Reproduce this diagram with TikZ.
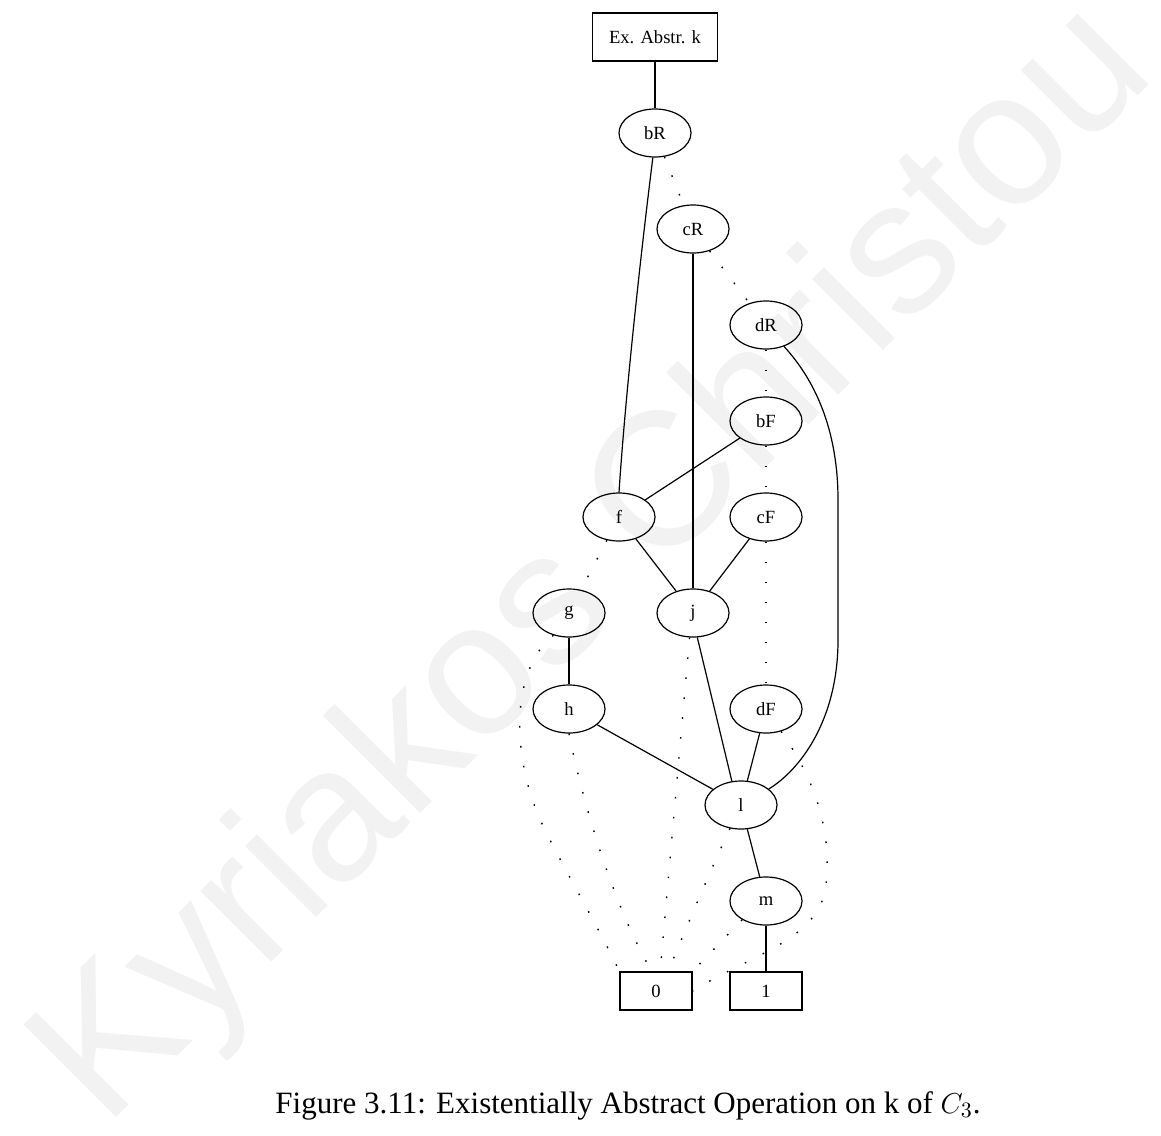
\documentclass[tikz,border=0pt]{standalone}
\usepackage{fontspec}
\setmainfont{Liberation Serif}
\newfontfamily\wmfont{Liberation Sans}
\usepackage{tikz}
\usetikzlibrary{shapes.geometric}

\begin{document}
\begin{tikzpicture}[
  x=0.5pt, y=-0.5pt,
  var/.style={draw, ellipse, line width=0.6pt, inner sep=0pt, minimum width=36pt, minimum height=24pt, font=\fontsize{9.3}{11}\selectfont},
  term/.style={draw, rectangle, line width=0.6pt, inner sep=0pt, minimum width=36pt, minimum height=19pt, font=\fontsize{9.3}{11}\selectfont},
  hi/.style={line width=0.6pt},
  lo/.style={line width=0.7pt, dash pattern=on 0.8pt off 9.2pt}
]
\useasboundingbox (0,0) rectangle (1161,1135);
% watermark
\node[anchor=base, rotate=45, text=black!5, font=\wmfont\fontsize{95}{95}\selectfont] (wm) at (632,602) {Kyriakos Christou};

\node[term, minimum width=62.5pt, minimum height=24pt] (ex) at (655,37) {Ex. Abstr. k};
\node[var] (bR) at (655,133) {bR};
\node[var] (cR) at (693,229) {cR};
\node[var] (dR) at (766,325) {dR};
\node[var] (bF) at (766,421) {bF};
\node[var] (f) at (619,517) {f};
\node[var] (cF) at (766,517) {cF};
\node[var] (g) at (569,613) {g};
\node[var] (j) at (693,613) {j};
\node[var] (h) at (569,709) {h};
\node[var] (dF) at (766,709) {dF};
\node[var] (l) at (741,805) {l};
\node[var] (m) at (766,901) {m};
\node[term] (zero) at (656,991) {0};
\node[term] (one) at (766,991) {1};

% high edges
\draw[hi] (ex) -- (bR);
\draw[hi] (bR.265) .. controls (640,260) and (625,400) .. (f.north);
\draw[hi] (cR) -- (j);
\draw[hi] (dR.-50) .. controls (815,380) and (838,430) .. (838,500) -- (838,640)
  .. controls (838,720) and (800,770) .. (l.30);
\draw[hi] (bF) -- (f);
\draw[hi] (f) -- (j);
\draw[hi] (cF) -- (j);
\draw[hi] (g) -- (h);
\draw[hi] (h) -- (l);
\draw[hi] (j.-80) -- (l.111);
\draw[hi] (dF) -- (l);
\draw[hi] (l) -- (m);
\draw[hi] (m) -- (one);

% low edges
\draw[lo] (bR) -- (cR);
\draw[lo] (cR) -- (dR);
\draw[lo] (dR) -- (bF);
\draw[lo] (bF) -- (cF);
\draw[lo] (f) -- (g);
\draw[lo] (cF) -- (dF);
\draw[lo] (g.235) .. controls (510,670) and (510,760) .. (545,830)
  .. controls (562,865) and (600,930) .. (zero.north west);
\draw[lo] (h.south) .. controls (580,790) and (610,900) .. (zero.102);
\draw[lo] (j.262) -- (zero.78);
\draw[lo] (l.245) .. controls (715,860) and (685,930) .. (zero.58);
\draw[lo] (m.218) -- (zero.north east);
\draw[lo] (dF.-56) .. controls (815,780) and (832,830) .. (826,885)
  .. controls (820,940) and (750,955) .. (zero.east);

% caption
\node[anchor=base, font=\fontsize{15.5}{18}\selectfont] (cap) at (628,1113) {Figure 3.11: Existentially Abstract Operation on k of $C_3$.};
\end{tikzpicture}
\end{document}
